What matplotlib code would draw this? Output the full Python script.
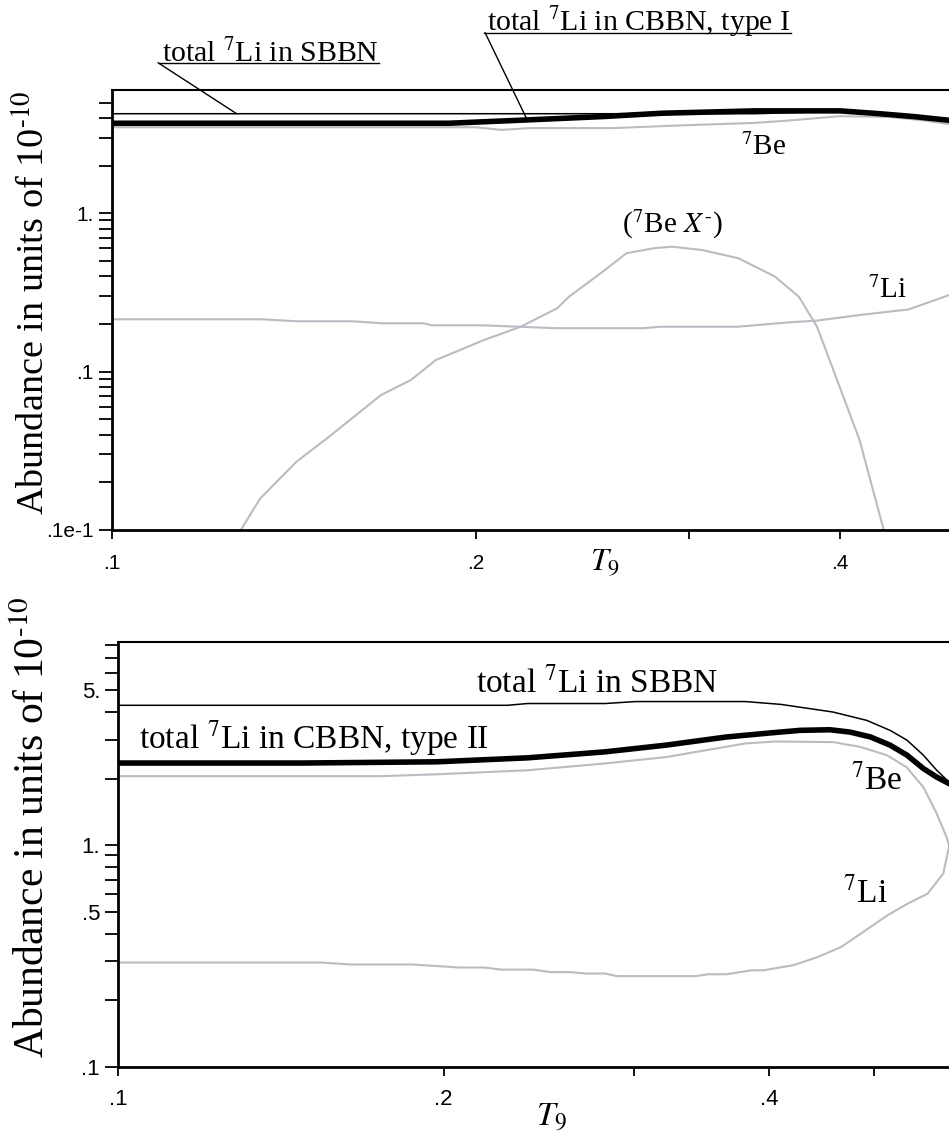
import numpy as np
import matplotlib.pyplot as plt
from matplotlib.lines import Line2D
from matplotlib.ticker import FixedLocator, FixedFormatter, NullFormatter

plt.rcParams['font.family'] = 'Liberation Serif'
plt.rcParams['mathtext.fontset'] = 'stix'

W, H = 949, 1134
GRAY = '#b9bcc2'

# ---------------- top panel : CBBN type I ----------------
t_sbbn1 = [0.1, 0.34, 0.40, 0.43, 0.46, 0.493]
v_sbbn1 = [4.25, 4.25, 4.40, 4.26, 4.08, 3.86]

t_cbbn1 = [0.1, 0.19, 0.22, 0.255, 0.285, 0.34, 0.40, 0.43, 0.46, 0.493]
v_cbbn1 = [3.70, 3.70, 3.88, 4.08, 4.28, 4.43, 4.43, 4.26, 4.08, 3.86]

t_be1 = [0.1, 0.20, 0.21, 0.222, 0.26, 0.30, 0.34, 0.36, 0.40, 0.44, 0.47, 0.493]
v_be1 = [3.49, 3.49, 3.36, 3.45, 3.45, 3.60, 3.72, 3.83, 4.10, 4.05, 3.85, 3.65]

t_li1 = [0.1, 0.133, 0.142, 0.158, 0.167, 0.181, 0.184, 0.203, 0.233, 0.275,
         0.284, 0.329, 0.361, 0.383, 0.416, 0.456, 0.493]
v_li1 = [0.214, 0.214, 0.208, 0.208, 0.202, 0.202, 0.196, 0.196, 0.188, 0.188,
         0.192, 0.192, 0.204, 0.210, 0.228, 0.247, 0.305]

t_bex = [0.1278, 0.1326, 0.1421, 0.1506, 0.1669, 0.1767, 0.1853, 0.2031, 0.2178,
         0.2334, 0.2388, 0.2557, 0.2664, 0.2806, 0.2905, 0.3076, 0.3297, 0.3535,
         0.370, 0.383, 0.396, 0.4153, 0.4349]
v_bex = [0.0100, 0.0158, 0.0270, 0.0379, 0.0711, 0.0885, 0.1184, 0.1583, 0.192,
         0.251, 0.297, 0.438, 0.559, 0.601, 0.615, 0.586, 0.520, 0.398,
         0.297, 0.192, 0.0976, 0.037, 0.0100]

# ---------------- bottom panel : CBBN type II ----------------
t_sbbn2 = [0.1, 0.229, 0.239, 0.282, 0.301, 0.380, 0.41, 0.458, 0.492, 0.517,
           0.536, 0.555, 0.571, 0.586]
v_sbbn2 = [4.28, 4.28, 4.36, 4.36, 4.45, 4.45, 4.32, 3.99, 3.66, 3.30,
           2.98, 2.55, 2.18, 1.93]

t_cbbn2 = [0.1, 0.148, 0.197, 0.239, 0.282, 0.321, 0.365, 0.40, 0.427, 0.455,
           0.475, 0.496, 0.517, 0.536, 0.555, 0.571, 0.586]
v_cbbn2 = [2.35, 2.35, 2.38, 2.48, 2.64, 2.83, 3.08, 3.21, 3.30, 3.32,
           3.24, 3.08, 2.83, 2.55, 2.22, 2.03, 1.90]

t_be2 = [0.1, 0.175, 0.197, 0.239, 0.282, 0.321, 0.380, 0.405, 0.458, 0.485,
         0.5135, 0.5355, 0.555, 0.571, 0.583, 0.586]
v_be2 = [2.05, 2.05, 2.09, 2.18, 2.34, 2.50, 2.88, 2.94, 2.92, 2.78,
         2.55, 2.25, 1.83, 1.39, 1.09, 1.00]

t_li2 = [0.1, 0.154, 0.164, 0.187, 0.207, 0.218, 0.226, 0.242, 0.251, 0.261,
         0.271, 0.282, 0.289, 0.342, 0.351, 0.365, 0.385, 0.395, 0.421, 0.443,
         0.466, 0.491, 0.514, 0.537, 0.560, 0.579, 0.586]
v_li2 = [0.296, 0.296, 0.290, 0.290, 0.281, 0.281, 0.275, 0.275, 0.268, 0.268,
         0.264, 0.264, 0.257, 0.257, 0.262, 0.262, 0.273, 0.273, 0.288, 0.313,
         0.348, 0.414, 0.483, 0.546, 0.605, 0.745, 0.98]

fig = plt.figure(figsize=(W / 100, H / 100), dpi=100)

def px(x, y):
    # pixel position (from top-left) -> figure fraction
    return x / W, 1 - y / H

def style_axes(ax, xlim, ylim, xmaj, xlab, ymaj, ylab, ymin, fs, xpad, ypad):
    ax.set_xscale('log')
    ax.set_yscale('log')
    ax.set_xlim(*xlim)
    ax.set_ylim(*ylim)
    ax.xaxis.set_major_locator(FixedLocator(xmaj))
    ax.xaxis.set_major_formatter(FixedFormatter(xlab))
    ax.xaxis.set_minor_locator(FixedLocator([]))
    ax.xaxis.set_minor_formatter(NullFormatter())
    ax.yaxis.set_major_locator(FixedLocator(ymaj))
    ax.yaxis.set_major_formatter(FixedFormatter(ylab))
    ax.yaxis.set_minor_locator(FixedLocator(ymin))
    ax.yaxis.set_minor_formatter(NullFormatter())
    ax.spines['right'].set_visible(False)
    ax.spines['left'].set_linewidth(2)
    ax.spines['bottom'].set_linewidth(2)
    ax.spines['top'].set_linewidth(1.5)
    ax.tick_params(axis='x', which='both', direction='out', length=6.5, width=1.3,
                   pad=xpad, labelsize=fs, labelfontfamily='Liberation Sans')
    ax.tick_params(axis='y', which='both', direction='out', length=9.3, width=1.3,
                   pad=ypad, labelsize=fs, labelfontfamily='Liberation Sans')

# ---------- top ----------
ax1 = fig.add_axes([112 / W, 1 - 530 / H, (957 - 112) / W, 440 / H])
ax1.plot(t_li1, v_li1, color=GRAY, lw=1.5)
ax1.plot(t_bex, v_bex, color=GRAY, lw=1.5)
ax1.plot(t_be1, v_be1, color=GRAY, lw=1.5)
ax1.plot(t_sbbn1, v_sbbn1, color='black', lw=1.1)
ax1.plot(t_cbbn1, v_cbbn1, color='black', lw=4)
minor1 = [k * 0.01 for k in range(2, 10)] + [k * 0.1 for k in range(2, 10)] + [2, 3, 4, 5]
style_axes(ax1, (0.1, 0.5), (0.01, 6.0), [0.1, 0.2, 0.3, 0.4], ['.1', '.2', '', '.4'],
           [0.01, 0.1, 1], ['.1e-1', '.1', '1.'], minor1, 15, 10.5, 4)

ax1.text(0.346, 2.62, r'$^{7}$Be', fontsize=21, ha='center', va='center')
ax1.text(0.291, 0.856, r'($^{7}$Be $X^{\text{-}}$)', fontsize=21, ha='center', va='center')
ax1.text(0.438, 0.328, r'$^{7}$Li', fontsize=21, ha='center', va='center')
fig.text(*px(605, 563), r'$T_9$', fontsize=23, ha='center', va='center')
fig.text(*px(34, 303), r'Abundance in units of 10$^{\text{-10}}$', fontsize=27.5,
         rotation=90, ha='center', va='center')

lab_sbbn1 = fig.text(*px(161.7, 61.7), r'total $^{7}$Li in SBBN', fontsize=21.5,
                     ha='left', va='baseline')
lab_cbbn1 = fig.text(*px(487, 31), r'total $^{7}$Li in CBBN, type I', fontsize=21.5,
                     ha='left', va='baseline')
ax1.annotate('', xy=(0.1268, v_sbbn1[0]), xytext=px(158, 62.7),
             textcoords='figure fraction', annotation_clip=False,
             arrowprops=dict(arrowstyle='-', lw=1, color='black', shrinkA=0, shrinkB=0))
ax1.annotate('', xy=(0.2204, 3.92), xytext=px(485, 32.5),
             textcoords='figure fraction', annotation_clip=False,
             arrowprops=dict(arrowstyle='-', lw=1, color='black', shrinkA=0, shrinkB=0))

# ---------- bottom ----------
ax2 = fig.add_axes([118 / W, 1 - 1067 / H, (960 - 118) / W, 425 / H])
ax2.plot(t_li2, v_li2, color=GRAY, lw=1.5)
ax2.plot(t_be2, v_be2, color=GRAY, lw=1.5)
ax2.plot(t_sbbn2, v_sbbn2, color='black', lw=1.1)
ax2.plot(t_cbbn2, v_cbbn2, color='black', lw=4)
minor2 = [0.2, 0.3, 0.4, 0.6, 0.7, 0.8, 0.9, 2, 3, 4, 6, 7, 8]
style_axes(ax2, (0.1, 0.6), (0.1, 8.26), [0.1, 0.2, 0.3, 0.4, 0.5],
           ['.1', '.2', '', '.4', ''], [0.1, 0.5, 1, 5], ['.1', '.5', '1.', '5.'],
           minor2, 16, 9.5, 3.6)

ax2.text(0.277, 4.90, r'total $^{7}$Li in SBBN', fontsize=24, ha='center', va='baseline')
ax2.text(0.1046, 2.74, r'total $^{7}$Li in CBBN, type II', fontsize=24, ha='left',
         va='baseline')
ax2.text(0.503, 1.96, r'$^{7}$Be', fontsize=24, ha='center', va='center')
ax2.text(0.491, 0.607, r'$^{7}$Li', fontsize=24, ha='center', va='center')
fig.text(*px(552, 1118), r'$T_9$', fontsize=24, ha='center', va='center')
fig.text(*px(34, 827), r'Abundance in units of 10$^{\text{-10}}$', fontsize=30,
         rotation=90, ha='center', va='center')

# underline the two callout labels of the top panel
fig.canvas.draw()
rend = fig.canvas.get_renderer()
for lab, ybase in [(lab_sbbn1, 62.7), (lab_cbbn1, 32.5)]:
    bb = lab.get_window_extent(rend)
    y = 1 - ybase / H
    fig.add_artist(Line2D([bb.x0 / W - 3 / W, bb.x1 / W], [y, y], color='black',
                          lw=1, transform=fig.transFigure))

fig.savefig('out.png', dpi=100)
